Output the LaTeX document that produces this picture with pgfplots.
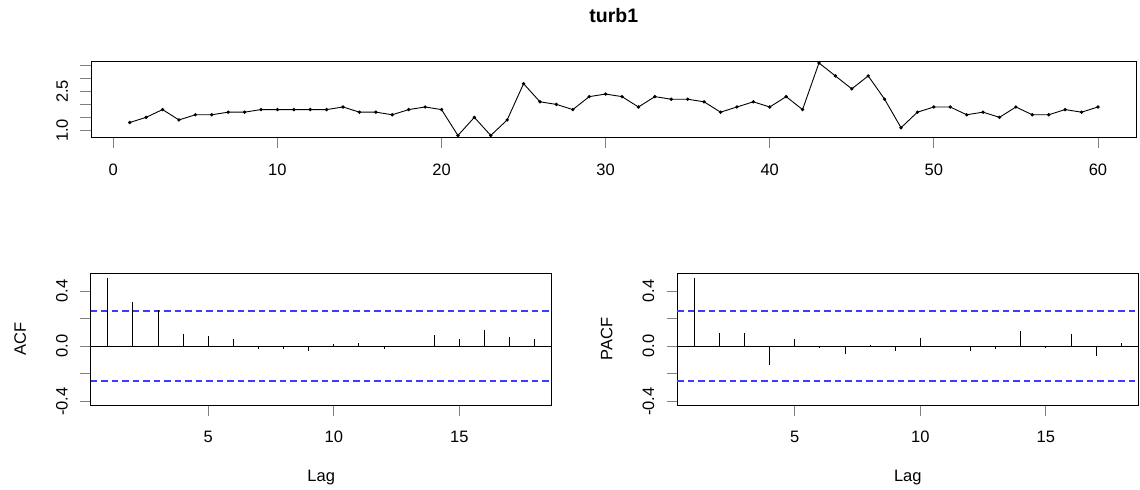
\documentclass[border=0pt]{standalone}
\usepackage{fontspec}
\setmainfont{Liberation Sans}
\usepackage{xcolor}
\usepackage{pgfplots}
\pgfplotsset{compat=1.18}
\definecolor{rblue}{RGB}{60,60,255}
\pgfplotsset{
  rstyle/.style={
    scale only axis,
    axis line style={line width=0.9bp},
    tick align=outside,
    major tick length=10.5bp,
    tick style={line width=0.9bp},
    xtick pos=bottom, ytick pos=left,
    minor tick num=0,
    tick label style={font=\fontsize{16.5bp}{19bp}\selectfont},
    label style={font=\fontsize{16.5bp}{19bp}\selectfont},
    yticklabel style={rotate=90, anchor=south},
    xticklabel shift=12bp,
    yticklabel shift=9bp,
    clip=false,
  },
  cistyle/.style={draw=rblue, line width=2bp, dash pattern=on 6.5bp off 4bp},
  acfstyle/.style={
    rstyle,
    width=461bp, height=132bp,
    xmin=0.32, xmax=18.68,
    ymin=-0.427, ymax=0.528,
    xtick={5,10,15}, xticklabels={5,10,15},
    ytick={-0.4,-0.2,0,0.2,0.4}, yticklabels={-0.4,,0.0,,0.4},
    xlabel={Lag},
    xlabel style={at={(axis description cs:0.5,-0.551)}, anchor=center},
    ylabel style={at={(axis description cs:-0.153,0.5)}, anchor=center, rotate=0},
  },
}
\pgfplotstableread{
x y
1 1.3
2 1.5
3 1.8
4 1.4
5 1.6
6 1.6
7 1.7
8 1.7
9 1.8
10 1.8
11 1.8
12 1.8
13 1.8
14 1.9
15 1.7
16 1.7
17 1.6
18 1.8
19 1.9
20 1.8
21 0.8
22 1.5
23 0.8
24 1.4
25 2.8
26 2.1
27 2.0
28 1.8
29 2.3
30 2.4
31 2.3
32 1.9
33 2.3
34 2.2
35 2.2
36 2.1
37 1.7
38 1.9
39 2.1
40 1.9
41 2.3
42 1.8
43 3.6
44 3.1
45 2.6
46 3.1
47 2.2
48 1.1
49 1.7
50 1.9
51 1.9
52 1.6
53 1.7
54 1.5
55 1.9
56 1.6
57 1.6
58 1.8
59 1.7
60 1.9
}\turb
\pgfplotstableread{
lag acf
1 0.496
2 0.318
3 0.263
4 0.089
5 0.077
6 0.051
7 -0.022
8 -0.017
9 -0.031
10 0.014
11 0.024
12 -0.019
13 0.002
14 0.080
15 0.053
16 0.118
17 0.070
18 0.053
}\acftab
\pgfplotstableread{
lag pacf
1 0.496
2 0.099
3 0.099
4 -0.137
5 0.053
6 -0.014
7 -0.053
8 0.012
9 -0.031
10 0.060
11 0.003
12 -0.031
13 -0.017
14 0.108
15 -0.014
16 0.089
17 -0.072
18 0.024
}\pacftab
\pgfplotstableread{
x ci
0.32 0.253
18.68 0.253
}\ciup
\pgfplotstableread{
x ci
0.32 -0.253
18.68 -0.253
}\cilo
\begin{document}
\begin{tikzpicture}
\path (0,0) rectangle (1140bp,-490bp);
% top series
\begin{axis}[rstyle,
  at={(91bp,-137.7bp)}, anchor=south west,
  width=1045.7bp, height=76.7bp,
  xmin=-1.36, xmax=62.36, ymin=0.714, ymax=3.676,
  xtick={0,10,20,30,40,50,60}, xticklabels={0,10,20,30,40,50,60},
  ytick={1,1.5,2,2.5,3,3.5}, yticklabels={1.0,,,2.5,,},
  title={turb1},
  title style={at={(axis description cs:0.5,1.51)}, anchor=center, font=\fontsize{19.5bp}{22bp}\selectfont\bfseries},
]
\addplot[black, line width=0.9bp, mark=*, mark size=1.2bp] table[x=x,y=y] {\turb};
\end{axis}
% ACF
\begin{axis}[acfstyle, at={(90.7bp,-405.3bp)}, anchor=south west, ylabel={ACF}]
\addplot[black, line width=0.9bp] coordinates {(0.32,0) (18.68,0)};
\addplot[cistyle] table[x=x,y=ci] {\ciup};
\addplot[cistyle] table[x=x,y=ci] {\cilo};
\addplot[black, line width=0.9bp, ycomb, mark=none] table[x=lag,y=acf] {\acftab};
\end{axis}
% PACF
\begin{axis}[acfstyle, at={(677.3bp,-405.3bp)}, anchor=south west, ylabel={PACF}]
\addplot[black, line width=0.9bp] coordinates {(0.32,0) (18.68,0)};
\addplot[cistyle] table[x=x,y=ci] {\ciup};
\addplot[cistyle] table[x=x,y=ci] {\cilo};
\addplot[black, line width=0.9bp, ycomb, mark=none] table[x=lag,y=pacf] {\pacftab};
\end{axis}
\end{tikzpicture}
\end{document}
